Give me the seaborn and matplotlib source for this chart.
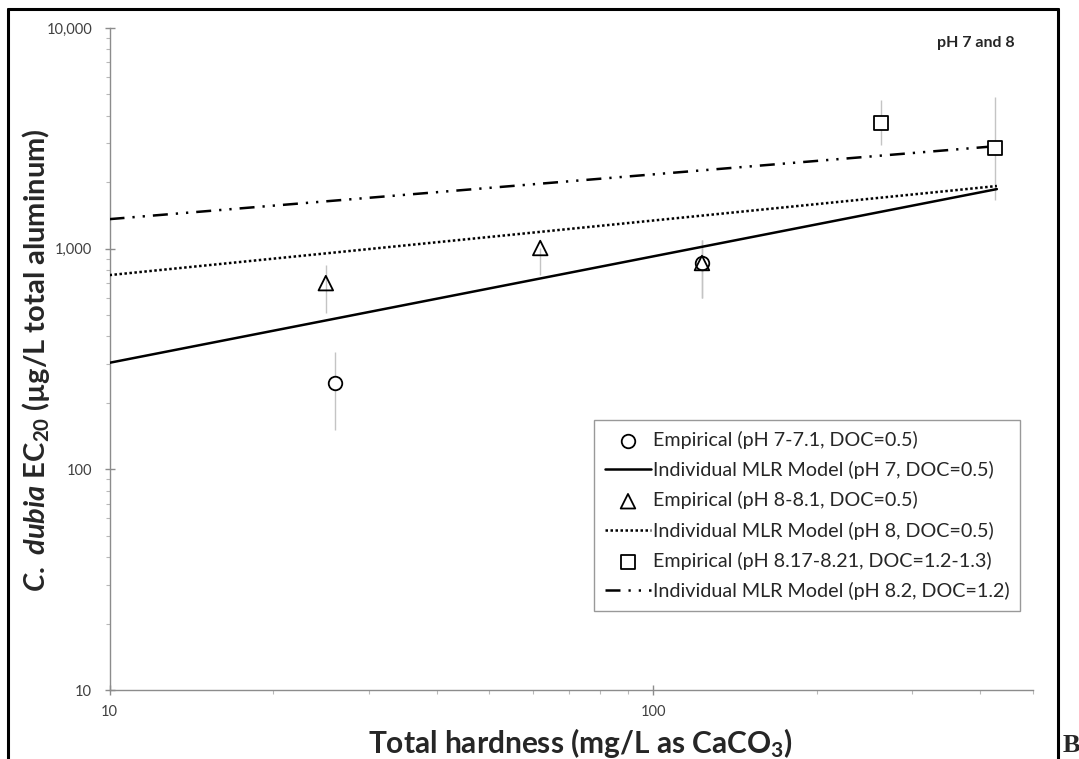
import matplotlib
matplotlib.use("Agg")
import matplotlib.pyplot as plt
from matplotlib.ticker import FuncFormatter, LogLocator, NullFormatter
from matplotlib.lines import Line2D
import seaborn as sns
import numpy as np

# ---------------- data ----------------
emp_ph7_x = [26, 123]
emp_ph7_y = [247, 861]
emp_ph7_lo = [151, 597]
emp_ph7_hi = [340, 1094]

emp_ph8_x = [25, 62, 123]
emp_ph8_y = [698, 1007, 861]
emp_ph8_lo = [511, 759, 597]
emp_ph8_hi = [843, 1007, 1094]

emp_ph82_x = [263, 426]
emp_ph82_y = [3716, 2845]
emp_ph82_lo = [2943, 1660]
emp_ph82_hi = [4700, 4865]

model_x = [10, 429]
model_ph7 = [304, 1862]
model_ph8 = [759, 1923]
model_ph82 = [1361, 2917]

labels = [
    "Empirical (pH 7-7.1, DOC=0.5)",
    "Individual MLR Model (pH 7, DOC=0.5)",
    "Empirical (pH 8-8.1, DOC=0.5)",
    "Individual MLR Model (pH 8, DOC=0.5)",
    "Empirical (pH 8.17-8.21, DOC=1.2-1.3)",
    "Individual MLR Model (pH 8.2, DOC=1.2)",
]
x_ticks = [10, 100]
y_ticks = [10, 100, 1000, 10000]

# ---------------- style ----------------
sns.set_style("ticks")
plt.rcParams["font.family"] = ["Lato", "DejaVu Sans"]
plt.rcParams["mathtext.fontset"] = "custom"
plt.rcParams["mathtext.rm"] = "Lato:bold"
plt.rcParams["mathtext.bf"] = "Lato:bold"
plt.rcParams["mathtext.it"] = "Lato:italic:bold"

fig = plt.figure(figsize=(10.79, 7.59), dpi=100)
fig.patch.set_facecolor("white")
ax = fig.add_axes([0.1015, 0.0909, 0.8559, 0.8722])
ax.set_xscale("log")
ax.set_yscale("log")

axis_gray = "#8c8c8c"
err_gray = "#c4c4c4"

# error bars
for xs, lo, hi in [(emp_ph7_x, emp_ph7_lo, emp_ph7_hi),
                   (emp_ph8_x, emp_ph8_lo, emp_ph8_hi),
                   (emp_ph82_x, emp_ph82_lo, emp_ph82_hi)]:
    ax.vlines(xs, lo, hi, color=err_gray, lw=1.0, zorder=1)

lw = 1.8
sns.lineplot(x=model_x, y=model_ph7, ax=ax, color="black", lw=lw,
             linestyle="-", label=labels[1], zorder=3)
sns.lineplot(x=model_x, y=model_ph8, ax=ax, color="black", lw=lw,
             linestyle=(0, (1, 1)), label=labels[3], zorder=3)
sns.lineplot(x=model_x, y=model_ph82, ax=ax, color="black", lw=lw,
             linestyle=(0, (6, 3.2, 0.9, 3.2, 0.9, 3.2)), label=labels[5], zorder=3)

sns.scatterplot(x=emp_ph7_x, y=emp_ph7_y, ax=ax, marker="o", s=95,
                facecolor="white", edgecolor="black", linewidth=1.3,
                label=labels[0], zorder=5)
sns.scatterplot(x=emp_ph8_x, y=emp_ph8_y, ax=ax, marker="^", s=110,
                facecolor="none", edgecolor="black", linewidth=1.3,
                label=labels[2], zorder=6)
sns.scatterplot(x=emp_ph82_x, y=emp_ph82_y, ax=ax, marker="s", s=95,
                facecolor="white", edgecolor="black", linewidth=1.3,
                label=labels[4], zorder=5)

ax.set_xlim(10, 500)
ax.set_ylim(10, 10000)

# axes styling
for s in ["top", "right"]:
    ax.spines[s].set_visible(False)
for s in ["left", "bottom"]:
    ax.spines[s].set_color(axis_gray)
    ax.spines[s].set_linewidth(1.0)

ax.set_xticks(x_ticks)
ax.set_yticks(y_ticks)
ax.xaxis.set_major_formatter(FuncFormatter(lambda v, p: f"{v:,.0f}"))
ax.yaxis.set_major_formatter(FuncFormatter(lambda v, p: f"{v:,.0f}"))
ax.xaxis.set_minor_locator(LogLocator(base=10, subs=np.arange(2, 10)))
ax.yaxis.set_minor_locator(LogLocator(base=10, subs=np.arange(2, 10)))
ax.xaxis.set_minor_formatter(NullFormatter())
ax.yaxis.set_minor_formatter(NullFormatter())
ax.tick_params(axis="both", which="major", direction="inout", length=7,
               width=1.0, color=axis_gray, labelsize=10.5, labelcolor="#404040")
ax.tick_params(axis="both", which="minor", direction="out", length=3,
               width=0.8, color="#b8b8b8")
ax.tick_params(axis="x", which="major", pad=7)
ax.tick_params(axis="y", which="major", pad=9)

ax.set_xlabel(r"Total hardness (mg/L as CaCO$_3$)", fontsize=21.5,
              fontweight="bold")
ax.xaxis.set_label_coords(0.5095, -0.055)
ax.set_ylabel(r"$\mathit{C.\ dubia}$ EC$_{20}$ (µg/L total aluminum)",
              fontsize=21, fontweight="bold")
ax.yaxis.set_label_coords(-0.062, 0.4985)

ax.text(0.9805, 0.988, "pH 7 and 8", transform=ax.transAxes, ha="right",
        va="top", fontsize=11.5, fontweight="bold")

# legend in reference order
h, l = ax.get_legend_handles_labels()
d = dict(zip(l, h))
leg = ax.legend([d[k] for k in labels], labels, loc="upper right",
                bbox_to_anchor=(0.986, 0.408), frameon=True, fancybox=False,
                edgecolor="#808080", fontsize=14.2, labelspacing=0.62,
                handlelength=2.3, handletextpad=0.1, borderpad=0.55,
                borderaxespad=0)
leg.get_frame().set_linewidth(1.0)

# outer black border (left, top, right) and panel letter
bl = 2.2
fig.add_artist(Line2D([8/1079, 8/1079], [0, 1 - 9/759], color="black", lw=bl,
                      transform=fig.transFigure))
fig.add_artist(Line2D([8/1079, 1058/1079], [1 - 9/759, 1 - 9/759], color="black",
                      lw=bl, transform=fig.transFigure))
fig.add_artist(Line2D([1058/1079, 1058/1079], [0, 1 - 9/759], color="black", lw=bl,
                      transform=fig.transFigure))
fig.text(1063/1079, 2/759, "B", fontsize=19, fontweight="bold",
         family="Liberation Serif", ha="left", va="bottom")

fig.savefig("out.png", dpi=100, facecolor="white")
